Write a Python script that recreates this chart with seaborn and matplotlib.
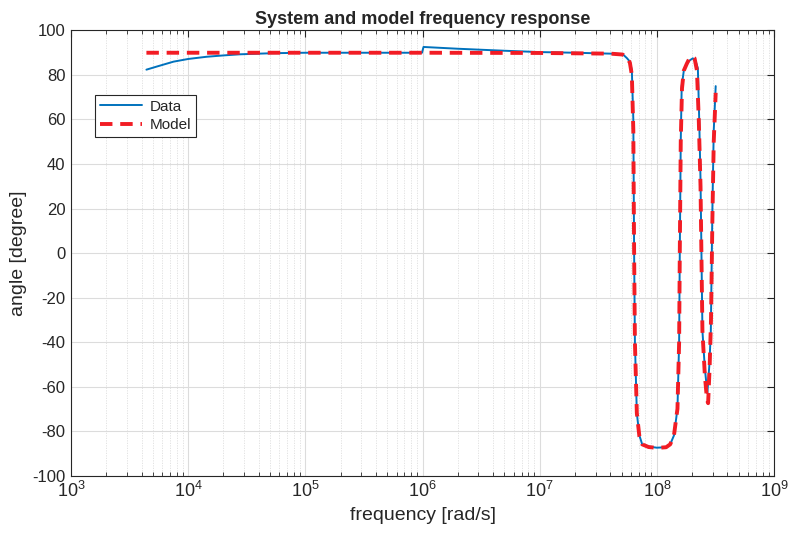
import numpy as np
import pandas as pd
import matplotlib
matplotlib.use("Agg")
import matplotlib.pyplot as plt
import seaborn as sns
from matplotlib.ticker import LogLocator, NullFormatter

# ---- data ----
data_freq = [4.4e3, 5.4e3, 7.5e3, 1e4, 1.44e4, 2e4, 2.76e4, 5.3e4, 1e5, 3e5, 9.9e5,
             1.02e6, 2e6, 5e6, 1e7, 2e7, 4e7, 5.1e7, 5.55e7, 5.89e7, 6.12e7,
             6.3e7, 6.4e7, 6.5e7, 6.75e7, 7.1e7, 7.5e7, 8.5e7, 1.0e8, 1.2e8,
             1.3e8, 1.4e8, 1.5e8, 1.55e8, 1.57e8, 1.6e8, 1.63e8, 1.7e8, 1.78e8,
             1.9e8, 2.03e8, 2.15e8, 2.24e8, 2.3e8, 2.36e8, 2.45e8, 2.57e8,
             2.7e8, 2.81e8, 2.89e8, 2.98e8, 3.06e8, 3.18e8]
data_phase = [82.4, 83.8, 86.0, 87.2, 88.2, 88.8, 89.3, 89.8, 90.0, 90.0, 90.0,
              92.6, 91.8, 90.9, 90.3, 90.0, 89.6, 89.4, 87.6, 86.0, 82.0,
              60.0, 0.0, -40.0, -72.0, -82.0, -86.0, -87.0, -87.5, -87.3,
              -86.0, -82.0, -70.0, -40.0, 0.0, 50.0, 75.0, 82.0, 84.5,
              86.5, 87.5, 86.0, 83.0, 60.0, 33.0, -35.0, -52.0,
              -63.0, -50.0, -35.0, 20.0, 55.0, 75.0]

model_freq = [4.4e3, 1e5, 1e6, 1e7, 4e7, 5.1e7, 5.55e7, 5.89e7, 6.12e7,
              6.3e7, 6.4e7, 6.5e7, 6.75e7, 7.1e7, 7.5e7, 8.5e7, 1.0e8, 1.2e8,
              1.3e8, 1.4e8, 1.5e8, 1.55e8, 1.57e8, 1.6e8, 1.64e8, 1.7e8, 1.8e8,
              1.9e8, 2.0e8, 2.1e8, 2.2e8, 2.28e8, 2.36e8, 2.45e8, 2.57e8,
              2.68e8, 2.74e8, 2.82e8, 2.9e8, 2.98e8, 3.06e8, 3.18e8]
model_phase = [90.0, 90.0, 90.0, 89.9, 89.6, 89.2, 88.0, 85.5, 80.0,
               55.0, 0.0, -40.0, -72.0, -82.5, -86.0, -87.2, -87.6, -87.3,
               -86.0, -82.0, -70.0, -40.0, 0.0, 50.0, 74.0, 82.0, 85.0,
               87.5, 88.5, 87.5, 82.0, 60.0, 30.0, -35.0, -55.0,
               -66.0, -67.5, -52.0, -30.0, 15.0, 50.0, 72.0]

xticks = [1e3, 1e4, 1e5, 1e6, 1e7, 1e8, 1e9]
yticks = list(range(-100, 101, 20))

df_data = pd.DataFrame({"freq": data_freq, "phase": data_phase})
df_model = pd.DataFrame({"freq": model_freq, "phase": model_phase})

sns.set_style("white")
plt.rcParams['font.family'] = ['Liberation Sans', 'DejaVu Sans']

fig = plt.figure(figsize=(7.91, 5.35), dpi=100)
ax = fig.add_axes([0.0898, 0.1112, 0.8887, 0.8318])

sns.lineplot(data=df_data, x="freq", y="phase", ax=ax, sort=False, estimator=None,
             color="#0072BD", linewidth=1.4, label="Data")
sns.lineplot(data=df_model, x="freq", y="phase", ax=ax, sort=False, estimator=None,
             color="#F21C24", linewidth=2.8, label="Model", dashes=False)
ax.lines[-1].set_dashes((3.2, 2.0))

ax.set_xscale("log")
ax.set_xlim(1e3, 1e9)
ax.set_ylim(-100, 100)
ax.set_xticks(xticks)
ax.set_yticks(yticks)
ax.set_yticklabels([str(v) for v in yticks])
ax.xaxis.set_minor_locator(LogLocator(base=10, subs=np.arange(2, 10), numticks=100))
ax.xaxis.set_minor_formatter(NullFormatter())

ax.grid(True, which="major", color="#dcdcdc", linewidth=0.8, linestyle="-")
ax.grid(True, which="minor", axis="x", color="#dedede", linewidth=0.6, linestyle=(0, (1.5, 1.5)))
ax.set_axisbelow(True)

for s in ax.spines.values():
    s.set_color("#262626")
    s.set_linewidth(0.8)
ax.tick_params(axis="both", which="major", direction="in", length=5, width=0.8,
               top=True, right=True, labelsize=12, colors="#262626", pad=4)
ax.tick_params(axis="x", which="minor", direction="in", length=3, width=0.6,
               top=True, bottom=True)
ax.tick_params(axis="x", which="major", labelsize=13)

ax.set_title("System and model frequency response", fontsize=13, fontweight="bold", pad=5)
ax.set_xlabel("frequency [rad/s]", fontsize=14, color="#262626", labelpad=4)
ax.set_ylabel("angle [degree]", fontsize=14, color="#262626", labelpad=4)

leg = ax.legend(loc="upper left", bbox_to_anchor=(0.034, 0.855), borderaxespad=0,
                fontsize=11, frameon=True, fancybox=False, edgecolor="#262626",
                framealpha=1, handlelength=2.8, borderpad=0.3, labelspacing=0.3,
                handletextpad=0.5)
leg.get_frame().set_linewidth(0.8)

fig.savefig("out.png", dpi=100)
